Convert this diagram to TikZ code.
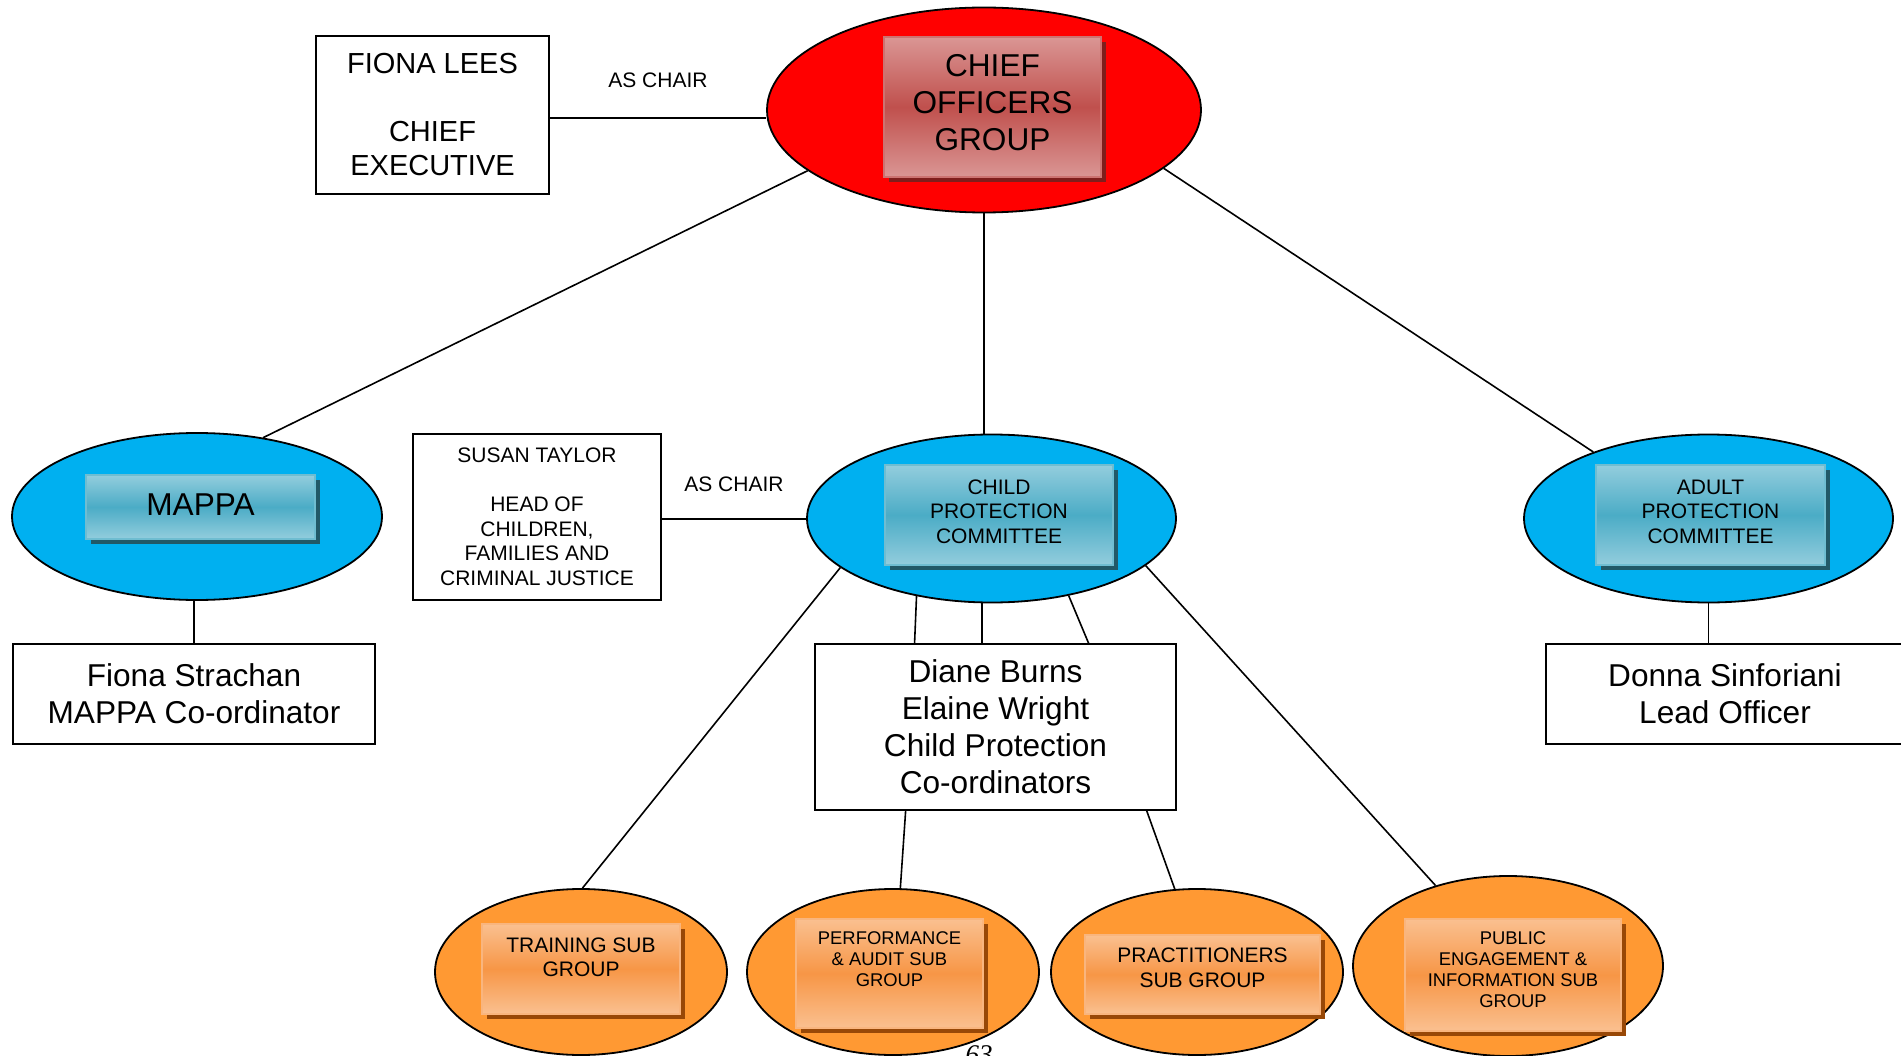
\documentclass[tikz,border=0pt]{standalone}
\usepackage{fontspec}
\setmainfont{Liberation Sans}
\newfontfamily\pagefont{Liberation Serif}
\usetikzlibrary{shapes,shadows}
\definecolor{cogred}{HTML}{FF0000}
\definecolor{cpcblue}{HTML}{00B0F0}
\definecolor{suborange}{HTML}{FF9933}
\definecolor{redlight}{HTML}{DA9694}
\definecolor{reddark}{HTML}{C0504D}
\definecolor{redshade}{HTML}{7F1E1C}
\definecolor{bluelight}{HTML}{93CDDD}
\definecolor{bluedark}{HTML}{4BACC6}
\definecolor{blueshade}{HTML}{215968}
\definecolor{orangelight}{HTML}{FAC090}
\definecolor{orangedark}{HTML}{F79646}
\definecolor{orangeshade}{HTML}{984807}
\providecommand{\bigtxt}{\fontsize{31.6}{37}\selectfont}
\providecommand{\headtxt}{\fontsize{29}{34}\selectfont}
\providecommand{\midtxt}{\fontsize{21}{24.5}\selectfont}
\providecommand{\smalltxt}{\fontsize{18.4}{21}\selectfont}
\tikzstyle{grp} = [draw, ellipse, line width=1.8pt, inner sep=0pt]
\tikzstyle{who} = [draw, fill=white, rectangle, line width=1.6pt, inner sep=0pt, align=center]
\tikzstyle{tag} = [rectangle, line width=2pt, inner sep=0pt, align=center]
\tikzstyle{redtag} = [tag, draw=reddark!80, top color=redlight, bottom color=redlight, middle color=reddark, drop shadow={shadow xshift=5pt, shadow yshift=-5pt, fill=redshade, opacity=1}]
\tikzstyle{bluetag} = [tag, draw=bluedark!80, top color=bluelight, bottom color=bluelight, middle color=bluedark, drop shadow={shadow xshift=5pt, shadow yshift=-5pt, fill=blueshade, opacity=1}]
\tikzstyle{orangetag} = [tag, draw=orangedark!70, top color=orangelight, bottom color=orangelight, middle color=orangedark, drop shadow={shadow xshift=5pt, shadow yshift=-5pt, fill=orangeshade, opacity=1}]
\tikzstyle{link} = [draw, line width=1.6pt]

\begin{document}
\begin{tikzpicture}[x=1pt, y=-1pt]
    \useasboundingbox (0,0) rectangle (1901,1056);
    % groups
    \node [grp, fill=cogred, minimum width=434pt, minimum height=205pt] (cog) at (984,110) {};
    \node [grp, fill=cpcblue, minimum width=370pt, minimum height=167pt] (mappa) at (197,516.5) {};
    \node [grp, fill=cpcblue, minimum width=369pt, minimum height=168pt] (cpc) at (991.5,518.5) {};
    \node [grp, fill=cpcblue, minimum width=369pt, minimum height=168pt] (apc) at (1708.5,518.5) {};
    \node [grp, fill=suborange, minimum width=292pt, minimum height=166pt] (train) at (581,972) {};
    \node [grp, fill=suborange, minimum width=292pt, minimum height=166pt] (perf) at (893,972) {};
    \node [grp, fill=suborange, minimum width=292pt, minimum height=166pt] (pract) at (1197,972) {};
    \node [grp, fill=suborange, minimum width=310pt, minimum height=180pt] (public) at (1508,966) {};

    \node [redtag, minimum width=217pt, minimum height=140pt, font=\bigtxt, text depth=10pt] (cogtag) at (992.5,107) {CHIEF\\ OFFICERS\\ GROUP};
    \node [bluetag, minimum width=229pt, minimum height=64pt, font=\bigtxt, text depth=5pt] (mappatag) at (200.5,507) {MAPPA};
    \node [bluetag, minimum width=228pt, minimum height=100pt, font=\midtxt, text depth=7pt] (cpctag) at (999,515) {CHILD\\ PROTECTION\\ COMMITTEE};
    \node [bluetag, minimum width=229pt, minimum height=100pt, font=\midtxt, text depth=7pt] (apctag) at (1710.5,515) {ADULT\\ PROTECTION\\ COMMITTEE};
    \node [orangetag, minimum width=198pt, minimum height=90pt, font=\midtxt, text depth=24pt] (traintag) at (581,969) {TRAINING SUB\\ GROUP};
    \node [orangetag, minimum width=187pt, minimum height=109pt, font=\smalltxt, text depth=29pt] (perftag) at (889.5,973.5) {PERFORMANCE\\ \& AUDIT SUB\\ GROUP};
    \node [orangetag, minimum width=235pt, minimum height=79pt, font=\midtxt, text depth=14pt] (practtag) at (1202.5,974.5) {PRACTITIONERS\\ SUB GROUP};
    \node [orangetag, minimum width=216pt, minimum height=112pt, font=\smalltxt, text depth=11pt] (publictag) at (1513,975) {PUBLIC\\ ENGAGEMENT \&\\ INFORMATION SUB\\ GROUP};

    % people
    \node [who, minimum width=233pt, minimum height=158pt, font=\headtxt] (fiona) at (432.5,115) {FIONA LEES\\[34pt] CHIEF\\ EXECUTIVE};
    \node [who, minimum width=248pt, minimum height=166pt, font=\midtxt] (susan) at (537,517) {SUSAN TAYLOR\\[24.5pt] HEAD OF\\ CHILDREN,\\ FAMILIES AND\\ CRIMINAL JUSTICE};
    \node [who, minimum width=362pt, minimum height=100pt, font=\bigtxt] (strachan) at (194,694) {Fiona Strachan\\ MAPPA Co-ordinator};
    \node [who, minimum width=361pt, minimum height=166pt, font=\bigtxt] (coord) at (995.5,727) {Diane Burns\\ Elaine Wright\\ Child Protection\\ Co-ordinators};
    \node [who, minimum width=358pt, minimum height=100pt, font=\bigtxt] (donna) at (1725,694) {Donna Sinforiani\\ Lead Officer};

    \node [anchor=north, inner sep=0pt, font=\pagefont\itshape\fontsize{27}{30}\selectfont] (pgnum) at (979,1045) {63};

    % links
    \draw [link] ([yshift=-3pt]fiona.east) -- node[yshift=38pt, font=\midtxt] (chairone) {AS CHAIR} ([yshift=-3pt]fiona.east -| cog.west);
    \draw [link] ([yshift=-2pt]susan.east) -- node[yshift=35pt, font=\midtxt] (chairtwo) {AS CHAIR} ([yshift=-2pt]susan.east -| cpc.west);
    \draw [link] (cog.199) -- (mappa.50);
    \draw [link] (cog.south) -- (cog.south |- cpc.north);
    \draw [link] (cog.342) -- (apc.150);
    \draw [link] (strachan.north) -- (strachan.north |- mappa.south);
    \draw [link] (apc.south) -- (apc.south |- donna.north);
    \draw [link] (cpc.226) -- (coord.134);
    \draw [link] (coord.99) -- (coord.99 |- cpc.south);
    \draw [link] (cpc.315) -- (coord.42);
    \draw [link] (cpc.198) -- (train.89);
    \draw [link] (cpc.343) -- (public.132);
    \draw [link] (coord.223) -- (perf.85);
    \draw [link] (coord.331) -- (pract.105);
\end{tikzpicture}
\end{document}
